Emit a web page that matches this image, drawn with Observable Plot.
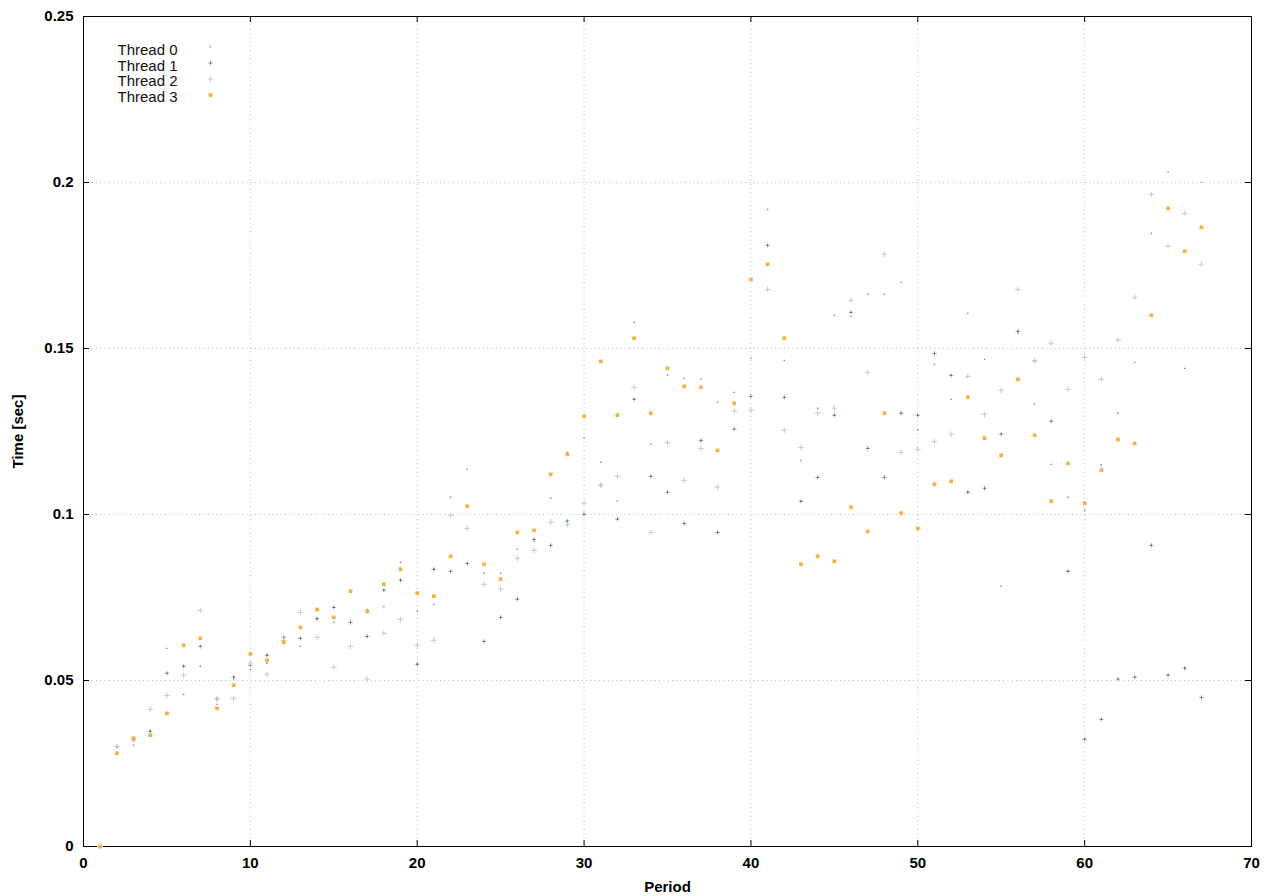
<!DOCTYPE html>
<html>
<head>
<meta charset="utf-8">
<script src="https://cdn.jsdelivr.net/npm/d3@7"></script>
<script src="https://cdn.jsdelivr.net/npm/@observablehq/plot@0.6"></script>
<style>
  html, body { margin: 0; padding: 0; background: #fff; }
  #chart svg { display: block; }
</style>
</head>
<body>
<div id="chart"></div>
<script>
const threads = ["Thread 0", "Thread 1", "Thread 2", "Thread 3"];
const periods = [1,2,3,4,5,6,7,8,9,10,11,12,13,14,15,16,17,18,19,20,21,22,23,24,25,26,27,28,29,30,31,32,33,34,35,36,37,38,39,40,41,42,43,44,45,46,47,48,49,50,51,52,53,54,55,56,57,58,59,60,61,62,63,64,65,66,67];
const thread0 = [0,0.0300,0.0305,0.0347,0.0597,0.0458,0.0543,0.0428,0.0505,0.0533,0.0552,0.0620,0.0603,0.0688,0.0675,0.0681,0.0714,0.0723,0.0856,0.0708,0.0729,0.1052,0.1136,0.0823,0.0823,0.0895,0.0919,0.1049,0.1187,0.1230,0.1157,0.1040,0.1579,0.1211,0.1419,0.1410,0.1407,0.1338,0.1368,0.1470,0.1919,0.1464,0.1163,0.1320,0.1600,0.1597,0.1663,0.1663,0.1699,0.1254,0.1452,0.1347,0.1606,0.1467,0.0784,0.1546,0.1332,0.1151,0.1052,0.1013,0.1149,0.1305,0.1458,0.1847,0.2031,0.1440,0.2000];
const thread1 = [0,0.0301,0.0320,0.0347,0.0522,0.0543,0.0603,0.0445,0.0510,0.0546,0.0576,0.0630,0.0627,0.0686,0.0720,0.0675,0.0633,0.0772,0.0802,0.0549,0.0835,0.0829,0.0853,0.0618,0.0690,0.0745,0.0925,0.0907,0.0980,0.1001,0.1088,0.0986,0.1347,0.1115,0.1067,0.0973,0.1223,0.0946,0.1257,0.1356,0.1811,0.1353,0.1040,0.1112,0.1299,0.1609,0.1199,0.1112,0.1305,0.1299,0.1485,0.1419,0.1067,0.1079,0.1242,0.1552,0.1463,0.1281,0.0829,0.0323,0.0383,0.0504,0.0510,0.0907,0.0516,0.0537,0.0449];
const thread2 = [0,0.0301,0.0326,0.0413,0.0455,0.0516,0.0711,0.0445,0.0446,0.0553,0.0519,0.0621,0.0705,0.0630,0.0540,0.0603,0.0504,0.0642,0.0684,0.0606,0.0621,0.0998,0.0958,0.0790,0.0775,0.0868,0.0892,0.0977,0.0970,0.1034,0.1088,0.1115,0.1383,0.0946,0.1217,0.1103,0.1199,0.1082,0.1311,0.1314,0.1678,0.1254,0.1202,0.1305,0.1320,0.1645,0.1428,0.1784,0.1187,0.1196,0.1220,0.1242,0.1416,0.1302,0.1374,0.1678,0.1463,0.1516,0.1377,0.1473,0.1407,0.1525,0.1654,0.1964,0.1808,0.1907,0.1754];
const thread3 = [0,0.0281,0.0326,0.0335,0.0401,0.0606,0.0627,0.0416,0.0486,0.0580,0.0561,0.0615,0.0660,0.0714,0.0690,0.0769,0.0708,0.0790,0.0835,0.0763,0.0754,0.0874,0.1025,0.0850,0.0805,0.0946,0.0952,0.1121,0.1181,0.1296,0.1461,0.1299,0.1531,0.1305,0.1440,0.1386,0.1383,0.1193,0.1335,0.1708,0.1754,0.1531,0.0850,0.0874,0.0859,0.1022,0.0949,0.1305,0.1004,0.0958,0.1091,0.1100,0.1353,0.1230,0.1178,0.1407,0.1239,0.1040,0.1154,0.1034,0.1134,0.1226,0.1214,0.1600,0.1922,0.1793,0.1865];
const xTicks = [0,10,20,30,40,50,60,70];
const yTicks = [0,0.05,0.1,0.15,0.2,0.25];
const xGrid = [10,20,30,40,50,60];
const yGrid = [0.05,0.1,0.15,0.2];

const W = 1280, H = 896;
const mL = 83, mR = 29, mT = 16, mB = 50;
const fw = W - mL - mR, fh = H - mT - mB;
const font = "'Liberation Sans', Arial, Helvetica, sans-serif";

const c0 = "#9a62b8", c1a = "#a3b8b6", c1b = "#2a4644", c2 = "#bccfcd", c3 = "#f2b440";

const legendRows = [34, 49.5, 65, 80.5];
const legendMarks = [46 - mT, 62.5 - mT, 78.5 - mT, 94.5 - mT];

const s1 = {symbol: "plus", r: 1.7, stroke: c1a, strokeWidth: 0.9};
const s1c = {symbol: "square", r: 0.75, fill: c1b};
const s2 = {symbol: "plus", r: 2.0, stroke: c2, strokeWidth: 1};
const s0 = {symbol: "square", r: 0.75, fill: c0};
const s3 = {symbol: "square", r: 2.1, fill: c3};

const marks = [
  Plot.gridX(xGrid, {stroke: "#b8b8b8", strokeOpacity: 1, strokeDasharray: "1,3.3"}),
  Plot.gridY(yGrid, {stroke: "#b8b8b8", strokeOpacity: 1, strokeDasharray: "1,3.3"}),
  Plot.frame({stroke: "#000", strokeWidth: 1}),
  Plot.tickX(xTicks, {x: d => d, insetTop: fh - 6, stroke: "#000"}),
  Plot.tickX(xTicks, {x: d => d, insetBottom: fh - 6, stroke: "#000"}),
  Plot.tickY(yTicks, {y: d => d, insetRight: fw - 6, stroke: "#000"}),
  Plot.tickY(yTicks, {y: d => d, insetLeft: fw - 6, stroke: "#000"}),
  Plot.axisX(xTicks, {tickSize: 0, tickPadding: 11, fontWeight: "bold", fontSize: 15, label: null}),
  Plot.axisY(yTicks, {tickSize: 0, tickPadding: 10, fontWeight: "bold", fontSize: 15, label: null, tickFormat: d3.format("")}),
  Plot.text(["Time [sec]"], {frameAnchor: "left", dx: -65, rotate: -90, fontWeight: "bold", fontSize: 15, textAnchor: "middle", lineAnchor: "middle"}),
  Plot.text(["Period"], {frameAnchor: "bottom", dy: 41, fontWeight: "bold", fontSize: 15, textAnchor: "middle", lineAnchor: "middle"}),
  // data
  Plot.dot(thread0, {x: periods, y: Plot.identity, ...s0}),
  Plot.dot(thread1, {x: periods, y: Plot.identity, ...s1}),
  Plot.dot(thread1, {x: periods, y: Plot.identity, ...s1c}),
  Plot.dot(thread2, {x: periods, y: Plot.identity, ...s2}),
  Plot.dot(thread3, {x: periods, y: Plot.identity, ...s3}),
];

// legend
threads.forEach((t, i) => {
  marks.push(Plot.text([t], {frameAnchor: "top-left", dx: 34, dy: legendRows[i], textAnchor: "start", lineAnchor: "middle", fontSize: 15, fill: "#111"}));
});
const lg = (i, s) => Plot.dot([threads[i]], {frameAnchor: "top-left", dx: 127, dy: legendMarks[i], ...s});
marks.push(lg(0, s0), lg(1, s1), lg(1, s1c), lg(2, s2), lg(3, s3));

const chart = Plot.plot({
  width: W,
  height: H,
  marginLeft: mL,
  marginRight: mR,
  marginTop: mT,
  marginBottom: mB,
  x: {domain: [0, 70], axis: null},
  y: {domain: [0, 0.25], axis: null},
  style: {fontFamily: font, fontSize: "15px", color: "#000", background: "#fff", overflow: "visible"},
  marks
});
document.getElementById("chart").appendChild(chart);
</script>
</body>
</html>
